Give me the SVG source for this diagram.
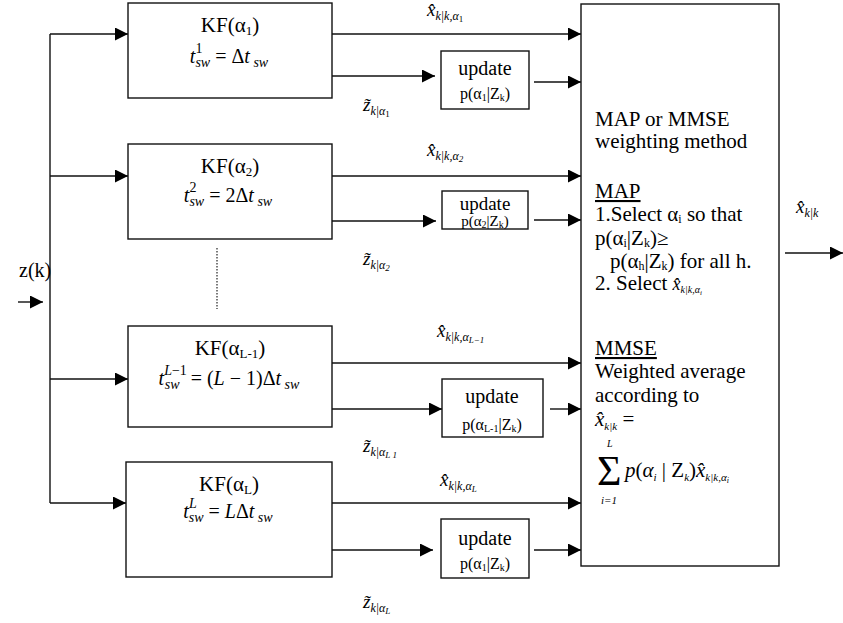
<svg xmlns="http://www.w3.org/2000/svg" width="843" height="623" viewBox="0 0 843 623" font-family="'Liberation Serif', 'Times New Roman', serif">
<defs>
<marker id="ah" viewBox="0 0 13 13" markerWidth="13" markerHeight="13" markerUnits="userSpaceOnUse" refX="13" refY="6.5" orient="auto">
<path d="M0,0 L13,6.5 L0,13 z" fill="#000"/>
</marker>
<style>
.box{fill:#fff;stroke:#111;stroke-width:1.4}
.ln{stroke:#111;stroke-width:1.4;fill:none}
.arr{stroke:#111;stroke-width:1.4;fill:none;marker-end:url(#ah)}
text{font-family:"Liberation Serif","Times New Roman",serif;fill:#000}
.t21{font-size:21px}
.t20{font-size:20px}
.t16{font-size:16px}
.lab{font-size:19px;font-style:italic}
.sub{font-size:12px}
.it{font-style:italic}
</style>
</defs>
<rect width="843" height="623" fill="#fff"/>

<g id="connectors">
<line class="ln" x1="50" y1="34" x2="50" y2="503"/>
<line class="arr" x1="50" y1="34" x2="128" y2="34"/>
<line class="arr" x1="50" y1="176" x2="128" y2="176"/>
<line class="arr" x1="50" y1="379" x2="128" y2="379"/>
<line class="arr" x1="50" y1="503" x2="126" y2="503"/>
<line class="arr" x1="18" y1="302" x2="43" y2="302"/>
<line x1="217" y1="248" x2="217" y2="309" stroke="#222" stroke-width="1.2" stroke-dasharray="1.5 1.5"/>

<line class="arr" x1="332" y1="34" x2="581" y2="34"/>
<line class="arr" x1="326" y1="76" x2="435" y2="76"/>
<line class="arr" x1="534" y1="82" x2="581" y2="82"/>

<line class="arr" x1="332" y1="176" x2="581" y2="176"/>
<line class="arr" x1="332" y1="221" x2="436" y2="221"/>
<line class="arr" x1="534" y1="220" x2="581" y2="220"/>

<line class="arr" x1="332" y1="363" x2="581" y2="363"/>
<line class="arr" x1="332" y1="409" x2="442" y2="409"/>
<line class="arr" x1="550" y1="409" x2="581" y2="409"/>

<line class="arr" x1="332" y1="503" x2="581" y2="503"/>
<line class="arr" x1="332" y1="550" x2="433" y2="550"/>
<line class="arr" x1="534" y1="550" x2="581" y2="550"/>

<line class="arr" x1="785" y1="253" x2="843" y2="253"/>
</g>

<g id="input-label">
<text class="t20" x="19" y="277">z(k)</text>
</g>

<g id="kf1">
<rect class="box" x="128" y="3" width="204" height="95"/>
<text class="t21" x="230" y="32" text-anchor="middle">KF(α<tspan font-size="13" dy="3">1</tspan><tspan dy="-3">)</tspan></text>
<text class="t20" x="229" y="63" text-anchor="middle"><tspan class="it">t</tspan><tspan font-size="14" dy="-10">1</tspan><tspan class="it" font-size="14" dx="-7" dy="14">sw</tspan><tspan dy="-4"> = Δ</tspan><tspan class="it">t</tspan><tspan class="it" font-size="14" dy="4"> sw</tspan></text>
</g>

<g id="kf2">
<rect class="box" x="128" y="144" width="204" height="95"/>
<text class="t21" x="230" y="173" text-anchor="middle">KF(α<tspan font-size="13" dy="3">2</tspan><tspan dy="-3">)</tspan></text>
<text class="t20" x="228" y="202" text-anchor="middle"><tspan class="it">t</tspan><tspan font-size="14" dy="-10">2</tspan><tspan class="it" font-size="14" dx="-7" dy="14">sw</tspan><tspan dy="-4"> = 2Δ</tspan><tspan class="it">t</tspan><tspan class="it" font-size="14" dy="4"> sw</tspan></text>
</g>

<g id="kfL1">
<rect class="box" x="128" y="326" width="204" height="101"/>
<text class="t21" x="230" y="355" text-anchor="middle">KF(α<tspan font-size="13" dy="3">L-1</tspan><tspan dy="-3">)</tspan></text>
<text class="t20" x="229" y="385" text-anchor="middle"><tspan class="it">t</tspan><tspan class="it" font-size="14" dy="-10">L</tspan><tspan font-size="14">−1</tspan><tspan class="it" font-size="14" dx="-22" dy="14">sw</tspan><tspan dx="6" dy="-4"> = (</tspan><tspan class="it">L</tspan><tspan> − 1)Δ</tspan><tspan class="it">t</tspan><tspan class="it" font-size="14" dy="4"> sw</tspan></text>
</g>

<g id="kfL">
<rect class="box" x="126" y="462" width="206" height="115"/>
<text class="t21" x="229" y="491" text-anchor="middle">KF(α<tspan font-size="13" dy="3">L</tspan><tspan dy="-3">)</tspan></text>
<text class="t20" x="228" y="518" text-anchor="middle"><tspan class="it">t</tspan><tspan class="it" font-size="14" dy="-10">L</tspan><tspan class="it" font-size="14" dx="-8" dy="14">sw</tspan><tspan dy="-4"> = </tspan><tspan class="it">L</tspan><tspan>Δ</tspan><tspan class="it">t</tspan><tspan class="it" font-size="14" dy="4"> sw</tspan></text>
</g>

<g id="upd1">
<rect class="box" x="441" y="51" width="88" height="58"/>
<text class="t20" x="485" y="75" text-anchor="middle">update</text>
<text class="t16" x="485" y="99" text-anchor="middle">p(α<tspan font-size="10" dy="2">1</tspan><tspan dy="-2">|Z</tspan><tspan font-size="10" dy="2">k</tspan><tspan dy="-2">)</tspan></text>
</g>

<g id="upd2">
<rect class="box" x="442" y="191" width="86" height="38"/>
<text x="485" y="210" text-anchor="middle" font-size="19">update</text>
<text x="485" y="226" text-anchor="middle" font-size="15">p(α<tspan font-size="10" dy="2">2</tspan><tspan dy="-2">|Z</tspan><tspan font-size="10" dy="2">k</tspan><tspan dy="-2">)</tspan></text>
</g>

<g id="upd3">
<rect class="box" x="442" y="379" width="101" height="58"/>
<text class="t20" x="492" y="403" text-anchor="middle">update</text>
<text class="t16" x="492" y="430" text-anchor="middle">p(α<tspan font-size="10" dy="2">L-1</tspan><tspan dy="-2">|Z</tspan><tspan font-size="10" dy="2">k</tspan><tspan dy="-2">)</tspan></text>
</g>

<g id="upd4">
<rect class="box" x="441" y="519" width="88" height="59"/>
<text class="t20" x="485" y="545" text-anchor="middle">update</text>
<text class="t16" x="485" y="569" text-anchor="middle">p(α<tspan font-size="10" dy="2">1</tspan><tspan dy="-2">|Z</tspan><tspan font-size="10" dy="2">k</tspan><tspan dy="-2">)</tspan></text>
</g>

<g id="labels">
<text class="lab" x="427" y="16">x̂<tspan class="sub" dy="4">k|k,α</tspan><tspan font-size="9" dy="2" font-style="normal">1</tspan></text>
<text class="lab" x="427" y="156">x̂<tspan class="sub" dy="4">k|k,α</tspan><tspan font-size="9" dy="2">2</tspan></text>
<text class="lab" x="437" y="337">x̂<tspan class="sub" dy="4">k|k,α</tspan><tspan font-size="9" dy="2">L−1</tspan></text>
<text class="lab" x="440" y="486">x̂<tspan class="sub" dy="4">k|k,α</tspan><tspan font-size="9" dy="2">L</tspan></text>
<text class="lab" x="363" y="111">z̃<tspan class="sub" dy="4">k|α</tspan><tspan font-size="9" dy="2" font-style="normal">1</tspan></text>
<text class="lab" x="363" y="265">z̃<tspan class="sub" dy="4">k|α</tspan><tspan font-size="9" dy="2">2</tspan></text>
<text class="lab" x="363" y="452">z̃<tspan class="sub" dy="4">k|α</tspan><tspan font-size="9" dy="2">L  1</tspan></text>
<text class="lab" x="363" y="608">z̃<tspan class="sub" dy="4">k|α</tspan><tspan font-size="9" dy="2">L</tspan></text>
<text class="lab" x="796" y="213" font-size="20">x̂<tspan class="sub" dy="4">k|k</tspan></text>
</g>

<g id="combiner">
<rect class="box" x="581" y="4" width="198" height="562"/>
<text class="t21" x="595" y="126">MAP or MMSE</text>
<text class="t21" x="595" y="148">weighting method</text>
<text class="t21" x="595" y="198" text-decoration="underline">MAP</text>
<text class="t21" x="595" y="221">1.Select α<tspan font-size="12" dy="2">i</tspan><tspan dy="-2"> so that</tspan></text>
<text class="t21" x="595" y="245">p(α<tspan font-size="12" dy="2">i</tspan><tspan dy="-2">|Z</tspan><tspan font-size="12" dy="2">k</tspan><tspan dy="-2">)≥</tspan></text>
<text class="t21" x="610" y="268">p(α<tspan font-size="12" dy="2">h</tspan><tspan dy="-2">|Z</tspan><tspan font-size="12" dy="2">k</tspan><tspan dy="-2">) for all h.</tspan></text>
<text class="t21" x="595" y="290">2. Select <tspan class="it" font-size="18">x̂</tspan><tspan class="it" font-size="10" dy="3">k|k,α</tspan><tspan class="it" font-size="7" dy="2">i</tspan></text>
<text class="t21" x="595" y="355" text-decoration="underline">MMSE</text>
<text class="t21" x="595" y="378">Weighted average</text>
<text class="t21" x="595" y="402">according to</text>
<text class="t21" x="595" y="426"><tspan class="it">x̂</tspan><tspan class="it" font-size="11" dy="4">k|k</tspan><tspan dy="-4"> =</tspan></text>
<text x="597" y="485" font-size="42">Σ</text>
<text class="it" x="607" y="447" font-size="10">L</text>
<text class="it" x="601" y="504" font-size="11">i=1</text>
<text class="t21" x="625" y="477"><tspan class="it">p</tspan>(<tspan class="it">α</tspan><tspan class="it" font-size="11" dy="4">i</tspan><tspan dy="-4"> | Z</tspan><tspan class="it" font-size="11" dy="4">k</tspan><tspan dy="-4">)</tspan><tspan class="it">x̂</tspan><tspan class="it" font-size="11" dy="4">k|k,α</tspan><tspan class="it" font-size="8" dy="2">i</tspan></text>
</g>
</svg>
